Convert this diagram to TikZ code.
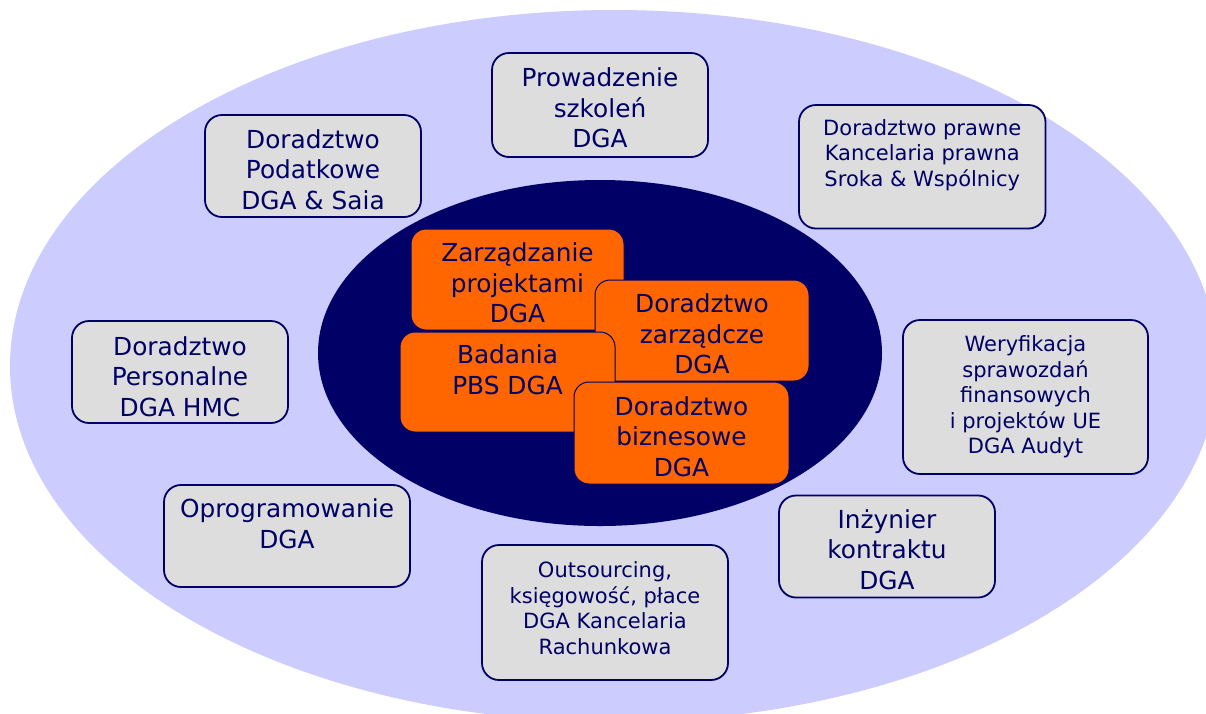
\documentclass[tikz,border=0pt]{standalone}
\usepackage{fontspec}
\setmainfont{DejaVu Sans}
\definecolor{lav}{HTML}{CCCCFF}
\definecolor{navy}{HTML}{000066}
\definecolor{boxgray}{HTML}{DDDDDD}
\definecolor{orng}{HTML}{FF6600}
\newcommand\bigtxtfont{\fontsize{24.8}{30.5}\selectfont}
\newcommand\smalltxtfont{\fontsize{21}{25.5}\selectfont}
\begin{document}
\begin{tikzpicture}[x=1pt,y=-1pt,
  graybox/.style={draw=navy, line width=1.8pt, fill=boxgray, rounded corners=17pt, inner sep=0pt},
  orangebox/.style={draw=navy, line width=1pt, fill=orng, rounded corners=15pt, inner sep=0pt},
  bigtxt/.style={anchor=north, align=center, inner sep=0pt, text=navy, font=\bigtxtfont},
  smalltxt/.style={anchor=north, align=center, inner sep=0pt, text=navy, font=\smalltxtfont}]
\useasboundingbox (0,0) rectangle (1206,713);
\fill[white] (0,0) rectangle (1206,713);
\clip (0,0) rectangle (1206,713);
% ellipses
\fill[lav] (614,366) ellipse [x radius=604pt, y radius=356pt];
\fill[navy] (600,353) ellipse [x radius=282pt, y radius=173pt];
% gray boxes
\node[graybox, minimum width=216pt, minimum height=104pt] (g1) at (600,105) {};
\node[bigtxt] (t1) at (600,67.85) {Prowadzenie\\szkoleń\\DGA};
\node[graybox, minimum width=216pt, minimum height=102pt] (g2) at (313,166) {};
\node[bigtxt] (t2) at (313,129.45) {Doradztwo\\Podatkowe\\DGA \& Saia};
\node[graybox, minimum width=246.5pt, minimum height=123.5pt] (g3) at (922.25,166.75) {};
\node[smalltxt] (t3) at (922.25,119.04) {Doradztwo prawne\\Kancelaria prawna\\Sroka \& Wspólnicy};
\node[graybox, minimum width=216pt, minimum height=102pt] (g4) at (180,372) {};
\node[bigtxt] (t4) at (180,336.15) {Doradztwo\\Personalne\\DGA HMC};
\node[graybox, minimum width=245pt, minimum height=154pt] (g5) at (1025.5,397) {};
\node[smalltxt] (t5) at (1025.5,335.74) {Weryfikacja\\sprawozdań\\finansowych\\i projektów UE\\DGA Audyt};
\node[graybox, minimum width=246pt, minimum height=102pt] (g6) at (287,536) {};
\node[bigtxt] (t6) at (287,498.8) {Oprogramowanie\\DGA};
\node[graybox, minimum width=246pt, minimum height=135pt] (g7) at (605,612.5) {};
\node[smalltxt] (t7) at (605,561.7) {Outsourcing,\\księgowość, płace\\DGA Kancelaria\\Rachunkowa};
\node[graybox, minimum width=216pt, minimum height=102pt] (g8) at (887,546.5) {};
\node[bigtxt] (t8) at (887,509.4) {Inżynier\\kontraktu\\DGA};
% orange boxes
\node[orangebox, minimum width=213pt, minimum height=101pt] (oA) at (517.5,279.5) {};
\node[bigtxt] (tA) at (517.5,242.85) {Zarządzanie\\projektami\\DGA};
\node[orangebox, minimum width=214pt, minimum height=101pt] (oB) at (702,330.5) {};
\node[bigtxt] (tB) at (702,293.85) {Doradztwo\\zarządcze\\DGA};
\node[orangebox, minimum width=215pt, minimum height=100pt] (oC) at (507.5,382) {};
\node[bigtxt] (tC) at (507.5,344.45) {Badania\\PBS DGA};
\node[orangebox, minimum width=215pt, minimum height=102pt] (oD) at (681.5,433) {};
\node[bigtxt] (tD) at (681.5,396.15) {Doradztwo\\biznesowe\\DGA};
\end{tikzpicture}
\end{document}
